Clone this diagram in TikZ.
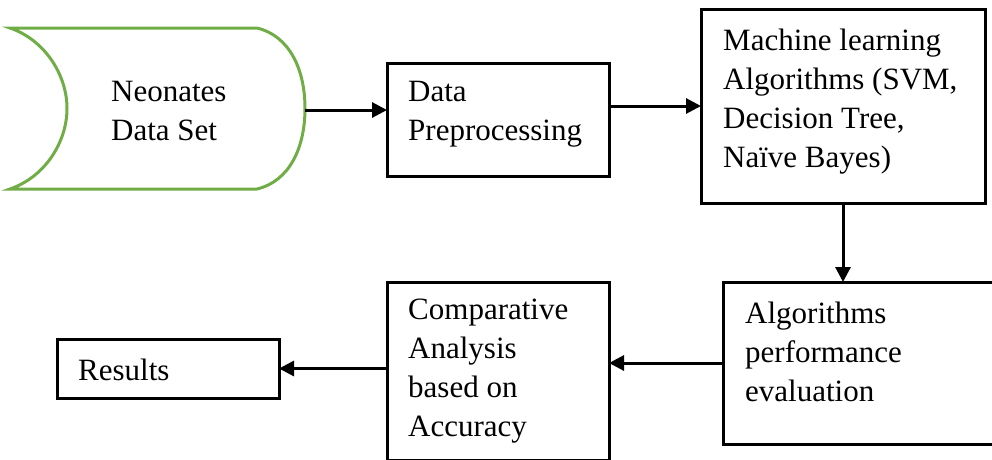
\documentclass[tikz,border=0pt]{standalone}
\usepackage{fontspec}
\setmainfont{Liberation Serif}
\usetikzlibrary{arrows.meta}
\definecolor{setgreen}{RGB}{112,173,71}
\begin{document}
\begin{tikzpicture}[x=1pt, y=-1pt,
    box/.style={rectangle, draw, line width=3pt, inner sep=0pt, outer sep=0pt},
    txt/.style={anchor=west, inner sep=0pt, align=left, font=\fontsize{31}{39}\selectfont},
    arrow/.style={-{Triangle[length=15pt, width=15pt]}, line width=3pt}
]
    \useasboundingbox (0,0) rectangle (992,459);

    % Data set (stored data shape)
    \draw[setgreen, line width=3pt] (10,28) -- (257,28)
        .. controls (290,36) and (305,70) .. (305,108.5)
        .. controls (305,147) and (290,181) .. (257,189) -- (10,189)
        .. controls (45,177) and (67,142) .. (67,108.5)
        .. controls (67,75) and (45,40) .. (10,28) -- cycle;
    \coordinate (dsE) at (305,110);
    \node[txt] (dsT) at (111,111) {Neonates\\Data Set};

    % Top row
    \node[box, minimum width=222pt, minimum height=113pt] (prep) at (498,119.5) {};
    \node[txt] (prepT) at (408,114) {Data\\Preprocessing};
    \node[box, minimum width=284pt, minimum height=194pt] (mlalg) at (843,106) {};
    \node[txt] (mlalgT) at (723,101.5) {Machine learning\\Algorithms (SVM,\\Decision Tree,\\Naïve Bayes)};

    % Bottom row
    \node[box, minimum width=280pt, minimum height=162pt] (perf) at (863,363) {};
    \node[txt] (perfT) at (745,352) {Algorithms\\performance\\evaluation};
    \node[box, minimum width=222pt, minimum height=178pt] (compare) at (498,371) {};
    \node[txt] (compareT) at (408,371.5) {Comparative\\Analysis\\based on\\Accuracy};
    \node[box, minimum width=222pt, minimum height=59pt] (results) at (168,368.5) {};
    \node[txt] (resultsT) at (78,370) {Results};

    % Connectors
    \draw[arrow] (dsE) -- (dsE -| prep.west);
    \draw[arrow] (prep.east |- mlalg.west) -- (mlalg.west);
    \draw[arrow] (mlalg.south) -- (mlalg.south |- perf.north);
    \draw[arrow] (perf.west) -- (perf.west -| compare.east);
    \draw[arrow] (results.east -| compare.west) -- (results.east);
\end{tikzpicture}
\end{document}
